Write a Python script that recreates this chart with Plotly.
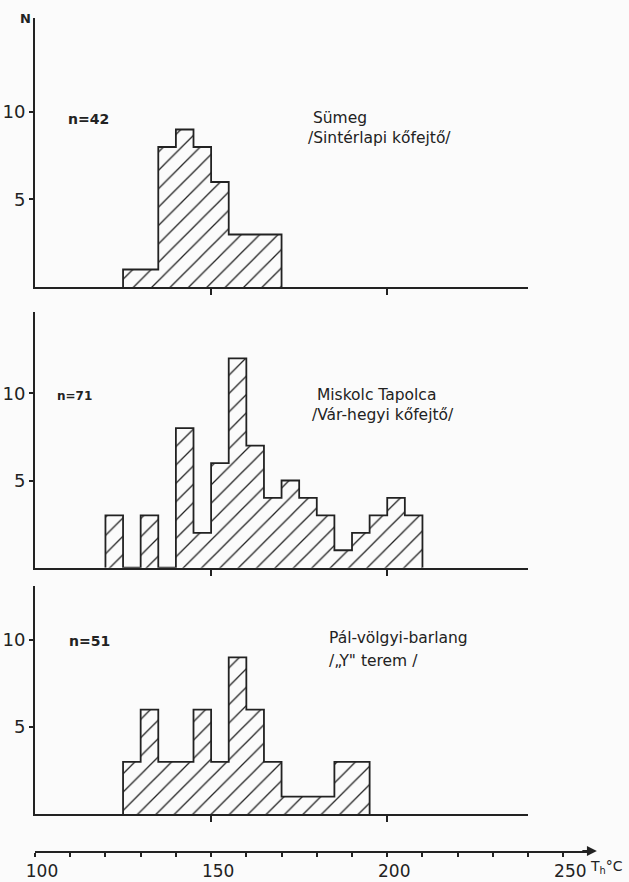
import plotly.graph_objects as go

# ---- data ----
bin_width = 5
sumeg_left = [125, 130, 135, 140, 145, 150, 155, 160, 165]
sumeg_counts = [1, 1, 8, 9, 8, 6, 3, 3, 3]

miskolc_left = [120, 125, 130, 135, 140, 145, 150, 155, 160, 165, 170, 175, 180, 185, 190, 195, 200, 205]
miskolc_counts = [3, 0, 3, 0, 8, 2, 6, 12, 7, 4, 5, 4, 3, 1, 2, 3, 4, 3]

pal_left = [125, 130, 135, 140, 145, 150, 155, 160, 165, 170, 175, 180, 185, 190]
pal_counts = [3, 6, 3, 3, 6, 3, 9, 6, 3, 1, 1, 1, 3, 3]

n_labels = ["n=42", "n=71", "n=51"]
site_line1 = ["Sümeg", "Miskolc Tapolca", "Pál-völgyi-barlang"]
site_line2 = ["/Sintérlapi kőfejtő/", "/Vár-hegyi kőfejtő/", "/„Y\" terem /"]
y_tickvals = [5, 10]
y_ticktext = ["5", "10"]
x_tickvals_bottom = [100, 150, 200, 250]
x_ticktext_bottom = ["100", "150", "200", "250"]

# ---- styling ----
INK = "#222222"
BG = "#fbfbfb"
FONT = "DejaVu Sans"
LW = 1.8

panels = [
    (sumeg_left, sumeg_counts),
    (miskolc_left, miskolc_counts),
    (pal_left, pal_counts),
]

fig = go.Figure()

for i, (left, counts) in enumerate(panels):
    xa = "x" if i == 0 else f"x{i+1}"
    ya = "y" if i == 0 else f"y{i+1}"
    fig.add_trace(go.Bar(
        x=left, y=counts, width=bin_width, offset=0,
        xaxis=xa, yaxis=ya,
        marker=dict(color=BG, line=dict(width=0),
                    pattern=dict(shape="/", size=13, solidity=0.1,
                                 fgcolor=INK, bgcolor=BG, fillmode="replace")),
        hoverinfo="skip", showlegend=False,
    ))
    xs = [left[0]] + list(left) + [left[-1] + bin_width]
    ys = [0] + list(counts) + [0]
    fig.add_trace(go.Scatter(
        x=xs, y=ys, mode="lines", line=dict(shape="hv", color=INK, width=LW),
        xaxis=xa, yaxis=ya, cliponaxis=False, hoverinfo="skip", showlegend=False,
    ))

# dummy trace to host the bottom temperature axis
fig.add_trace(go.Scatter(x=[100], y=[0], xaxis="x4", yaxis="y4", mode="markers",
                         marker=dict(opacity=0), hoverinfo="skip", showlegend=False))

panel_x_dom = [0, (240 - 100) / (257 - 100)]
y_doms = [[0.6771, 1.0], [0.3401, 0.6474], [0.0444, 0.3181]]
y_tops = [15.37, 14.68, 13.1]

layout = dict(
    width=629, height=882, autosize=False,
    margin=dict(l=35, r=41, t=18, b=31, pad=0),
    paper_bgcolor=BG, plot_bgcolor=BG,
    font=dict(family=FONT, color=INK),
    bargap=0, barmode="overlay",
)

for i in range(3):
    xk = "xaxis" if i == 0 else f"xaxis{i+1}"
    yk = "yaxis" if i == 0 else f"yaxis{i+1}"
    ya = "y" if i == 0 else f"y{i+1}"
    xa = "x" if i == 0 else f"x{i+1}"
    layout[xk] = dict(domain=panel_x_dom, range=[100, 240], anchor=ya,
                      showline=True, linecolor=INK, linewidth=LW,
                      ticks="outside", ticklen=6, tickwidth=1.5, tickcolor=INK,
                      tickvals=[150, 200], showticklabels=False, automargin=False,
                      showgrid=False, zeroline=False, fixedrange=True)
    layout[yk] = dict(domain=y_doms[i], range=[0, y_tops[i]], anchor=xa,
                      showline=True, linecolor=INK, linewidth=LW,
                      ticks="outside", ticklen=4, tickwidth=1.5, tickcolor=INK,
                      tickvals=y_tickvals, ticktext=y_ticktext, automargin=False,
                      tickfont=dict(size=18, family=FONT, color=INK),
                      showgrid=False, zeroline=False, fixedrange=True)

layout["xaxis4"] = dict(domain=[0, 1], range=[100, 257], anchor="y4",
                        showline=True, linecolor=INK, linewidth=LW,
                        ticks="outside", ticklen=4, tickwidth=1.5, tickcolor=INK,
                        tickvals=x_tickvals_bottom, ticktext=x_ticktext_bottom,
                        tickfont=dict(size=17, family=FONT, color=INK),
                        ticklabelshift=7, automargin=False,
                        minor=dict(dtick=10, tick0=100, ticks="outside", ticklen=4,
                                   tickwidth=1.5, tickcolor=INK, showgrid=False),
                        showgrid=False, zeroline=False, fixedrange=True)
layout["yaxis4"] = dict(domain=[0, 0.04], range=[0, 1], anchor="x4", visible=False,
                        automargin=False, fixedrange=True)

fig.update_layout(**layout)

ann = []
# N label
ann.append(dict(text="<b>N</b>", xref="x", yref="y domain", x=100, y=1.0,
                xanchor="right", yanchor="middle", xshift=-2, showarrow=False,
                font=dict(size=13, family=FONT, color=INK)))
# n labels
n_pos = [(108.7, 9.6, 14), (105.8, 9.85, 12), (109.2, 9.94, 14)]
for i, (x, y, fs) in enumerate(n_pos):
    xa = "x" if i == 0 else f"x{i+1}"
    ya = "y" if i == 0 else f"y{i+1}"
    ann.append(dict(text=f"<b>{n_labels[i]}</b>", xref=xa, yref=ya, x=x, y=y,
                    xanchor="left", yanchor="middle", showarrow=False,
                    font=dict(size=fs, family=FONT, color=INK)))
# site labels: panels 1 and 2 as two-line blocks, panel 3 with wider line gap
block_pos = [(176.9, 9.07), (178.2, 9.33)]
for i, (x, y) in enumerate(block_pos):
    xa = "x" if i == 0 else f"x{i+1}"
    ya = "y" if i == 0 else f"y{i+1}"
    ann.append(dict(text=f"&nbsp;{site_line1[i]}<br>{site_line2[i]}", xref=xa, yref=ya,
                    x=x, y=y, xanchor="left", yanchor="middle", align="left",
                    showarrow=False, font=dict(size=15.5, family=FONT, color=INK)))
ann.append(dict(text=site_line1[2], xref="x3", yref="y3", x=182.9, y=10.09,
                xanchor="left", yanchor="middle", showarrow=False,
                font=dict(size=15.5, family=FONT, color=INK)))
ann.append(dict(text=site_line2[2], xref="x3", yref="y3", x=182.9, y=8.79,
                xanchor="left", yanchor="middle", showarrow=False,
                font=dict(size=15.5, family=FONT, color=INK)))
# arrow at end of temperature axis
ann.append(dict(text="", xref="paper", yref="paper", x=1.016, y=0, ax=-16, ay=0,
                showarrow=True, arrowhead=2, arrowsize=1.1, arrowwidth=LW,
                arrowcolor=INK))
# axis unit label
ann.append(dict(text="T<sub>h</sub>°C", xref="paper", yref="paper", x=1.0, y=-0.019,
                xanchor="left", yanchor="middle", showarrow=False,
                font=dict(size=14, family=FONT, color=INK)))

fig.update_layout(annotations=ann)

fig.write_html("out.html")
